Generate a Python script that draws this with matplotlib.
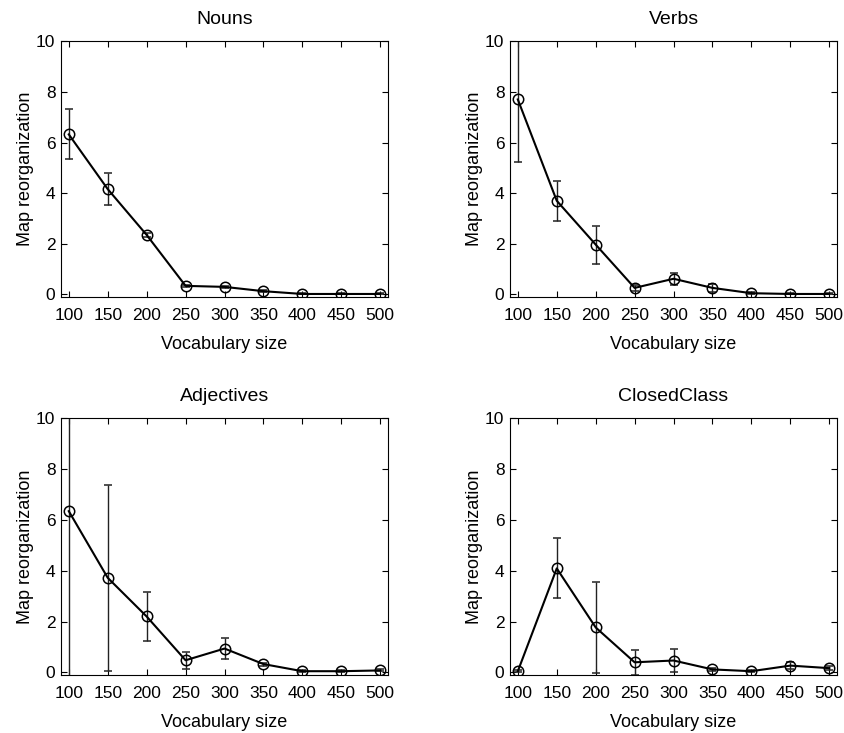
"""Map reorganization vs vocabulary size, four word classes (2x2 panels)."""
import matplotlib
matplotlib.use('Agg')
import matplotlib.pyplot as plt
import numpy as np

plt.rcParams['font.family'] = ['Liberation Sans', 'DejaVu Sans']

vocab = [100, 150, 200, 250, 300, 350, 400, 450, 500]

titles = ['Nouns', 'Verbs', 'Adjectives', 'ClosedClass']

nouns_mean = [6.32, 4.16, 2.35, 0.34, 0.30, 0.13, 0.02, 0.02, 0.02]
nouns_err = [0.99, 0.62, 0.08, 0.05, 0.05, 0.04, 0.02, 0.02, 0.02]

verbs_mean = [7.70, 3.70, 1.97, 0.26, 0.62, 0.26, 0.05, 0.02, 0.02]
verbs_err = [2.45, 0.78, 0.75, 0.12, 0.24, 0.15, 0.04, 0.02, 0.02]

adj_mean = [6.34, 3.72, 2.20, 0.48, 0.94, 0.33, 0.05, 0.05, 0.08]
adj_err = [7.00, 3.65, 0.98, 0.33, 0.40, 0.06, 0.04, 0.04, 0.04]

closed_mean = [0.05, 4.09, 1.77, 0.40, 0.47, 0.12, 0.05, 0.27, 0.17]
closed_err = [0.03, 1.18, 1.80, 0.50, 0.44, 0.06, 0.03, 0.15, 0.08]

means = [nouns_mean, verbs_mean, adj_mean, closed_mean]
errs = [nouns_err, verbs_err, adj_err, closed_err]

fig = plt.figure(figsize=(8.45, 7.33), dpi=100)

positions = [
    [0.0722, 0.5948, 0.387, 0.349],
    [0.6036, 0.5948, 0.387, 0.349],
    [0.0722, 0.0791, 0.387, 0.3506],
    [0.6036, 0.0791, 0.387, 0.3506],
]

for pos, title, m, e in zip(positions, titles, means, errs):
    ax = fig.add_axes(pos)
    ax.errorbar(vocab, m, yerr=e, fmt='-o', color='k', lw=1.5,
                mfc='none', mec='k', mew=1.1, ms=7.5,
                ecolor='#222222', elinewidth=1.0, capsize=3, capthick=1.0)
    ax.set_xlim(90, 510)
    ax.set_ylim(-0.1, 10)
    ax.set_xticks(vocab)
    ax.set_yticks(np.arange(0, 11, 2))
    ax.tick_params(direction='in', top=True, right=True, length=4,
                   labelsize=12.5, width=0.8)
    ax.tick_params(axis='x', pad=8)
    ax.tick_params(axis='y', pad=4)
    for s in ax.spines.values():
        s.set_linewidth(0.8)
    ax.set_title(title, fontsize=14, pad=12.5)
    ax.set_xlabel('Vocabulary size', fontsize=13, labelpad=9)
    ax.set_ylabel('Map reorganization', fontsize=13, labelpad=1.5)

plt.savefig('out.png', dpi=100, facecolor='white')
plt.close()
